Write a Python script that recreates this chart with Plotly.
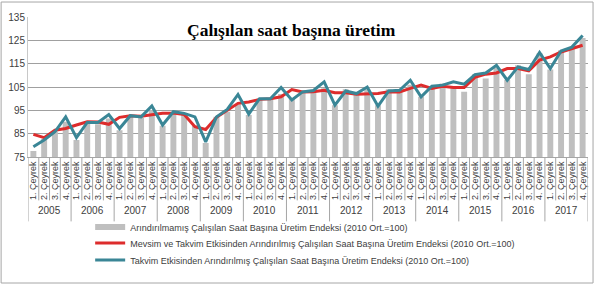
import plotly.graph_objects as go

years = ["2005", "2006", "2007", "2008", "2009", "2010", "2011", "2012",
         "2013", "2014", "2015", "2016", "2017"]
quarters = ["1. Çeyrek", "2. Çeyrek", "3. Çeyrek", "4. Çeyrek"]

raw_index = [77.6, 82.7, 85.8, 90.1, 82.3, 90.0, 89.0, 91.5, 86.5, 92.7, 91.8, 95.0,
             88.4, 94.2, 93.6, 88.5, 81.0, 92.2, 94.4, 97.5, 93.0, 100.0, 100.0, 102.0,
             100.0, 102.2, 102.8, 104.5, 97.2, 104.0, 102.2, 104.0, 97.2, 104.0, 103.0, 106.0,
             100.8, 105.3, 106.5, 105.0, 103.0, 110.5, 108.6, 113.3, 108.0, 114.3, 110.5, 119.5,
             112.5, 120.7, 121.8, 126.0]
seasonal_adj = [84.7, 83.3, 86.5, 87.2, 88.7, 90.1, 90.0, 89.0, 92.0, 92.7, 92.5, 93.2,
                93.7, 93.8, 93.2, 88.0, 86.8, 92.0, 95.0, 98.0, 98.6, 99.7, 100.0, 100.8,
                103.9, 102.9, 103.0, 103.6, 102.5, 102.5, 101.9, 101.9, 102.2, 103.0, 102.9, 104.4,
                105.8, 104.4, 105.3, 104.8, 104.8, 109.1, 110.5, 111.0, 112.9, 112.9, 111.9, 116.5,
                117.9, 120.0, 121.4, 122.9]
calendar_adj = [79.4, 82.3, 85.8, 92.2, 83.3, 89.8, 89.8, 93.2, 87.2, 92.7, 92.2, 96.9,
                88.7, 94.4, 93.7, 92.2, 81.5, 92.2, 95.4, 101.8, 93.4, 100.0, 100.0, 104.8,
                99.4, 102.9, 103.5, 107.2, 97.2, 103.3, 102.2, 105.0, 96.8, 103.3, 103.6, 107.9,
                100.8, 105.3, 105.8, 107.2, 106.2, 110.3, 111.0, 114.3, 107.9, 113.6, 112.5, 119.8,
                112.9, 120.4, 122.1, 127.1]

names = ["Arındırılmamış Çalışılan Saat Başına Üretim Endeksi (2010 Ort.=100)",
         "Mevsim ve Takvim Etkisinden Arındırılmış Çalışılan Saat Başına Üretim Endeksi (2010 Ort.=100)",
         "Takvim Etkisinden Arındırılmış Çalışılan Saat Başına Üretim Endeksi (2010 Ort.=100)"]

n = len(years) * len(quarters)
xs = list(range(n))
qlabels = [quarters[i % 4] for i in xs]

GRAY = "#BFBFBF"
RED = "#DD2C2C"
TEAL = "#3A8696"
TXT = "#404040"
FONT = "Liberation Sans, Arial"

fig = go.Figure()
fig.add_trace(go.Bar(x=xs, y=raw_index, marker=dict(color=GRAY, line=dict(width=0)),
                     showlegend=False, name=names[0]))
# legend-only entry showing bar series as a thick gray line (Excel style)
fig.add_trace(go.Scatter(x=[None], y=[None], mode="lines", name=names[0],
                         line=dict(color=GRAY, width=6), legend="legend"))
fig.add_trace(go.Scatter(x=xs, y=seasonal_adj, mode="lines", name=names[1],
                         line=dict(color=RED, width=3), legend="legend2"))
fig.add_trace(go.Scatter(x=xs, y=calendar_adj, mode="lines", name=names[2],
                         line=dict(color=TEAL, width=3), legend="legend3"))

shapes = []
for i in range(n + 1):
    is_year = (i % 4 == 0)
    shapes.append(dict(type="line", xref="x", yref="paper", x0=i - 0.5, x1=i - 0.5,
                       y0=0, y1=-0.46 if is_year else -0.31,
                       line=dict(color="#A6A6A6", width=1)))
# outer border
shapes.append(dict(type="rect", xref="paper", yref="paper", x0=-0.048, x1=1.009,
                   y0=-0.90, y1=1.107, line=dict(color="#A6A6A6", width=1)))

annotations = []
for k, yr in enumerate(years):
    annotations.append(dict(x=4 * k + 1.5, y=-0.38, xref="x", yref="paper", text=yr,
                            showarrow=False, font=dict(size=10, color=TXT, family=FONT),
                            yanchor="middle"))
annotations.append(dict(x=0.47, y=0.905, xref="paper", yref="paper",
                        text="<b>Çalışılan saat başına üretim</b>", showarrow=False,
                        font=dict(size=17.5, color="#000000",
                                  family="Liberation Serif, Times New Roman, serif"),
                        yanchor="middle"))

def leg(yc):
    return dict(x=0.111, y=yc, xref="paper", yref="container",
                xanchor="left", yanchor="middle",
                font=dict(size=9, color=TXT, family=FONT),
                itemwidth=30, bgcolor="rgba(0,0,0,0)")

fig.update_layout(
    width=600, height=288,
    margin=dict(l=28, r=12, t=17, b=131),
    paper_bgcolor="white", plot_bgcolor="white",
    bargap=0.45,
    font=dict(family=FONT, color=TXT),
    shapes=shapes, annotations=annotations,
    legend=leg(1 - 227 / 288),
    legend2=leg(1 - 243 / 288),
    legend3=leg(1 - 260 / 288),
)
fig.update_xaxes(range=[-0.5, n - 0.5], tickmode="array", tickvals=xs, ticktext=qlabels,
                 tickangle=-90, tickfont=dict(size=9, color=TXT, family=FONT),
                 showgrid=False, showline=True, linecolor="#A6A6A6", ticks="",
                 zeroline=False, automargin=False)
fig.update_yaxes(range=[75, 135], tickmode="array", tickvals=[75, 85, 95, 105, 115, 125, 135],
                 showgrid=True, gridcolor="#A0A0A0", gridwidth=1,
                 showline=True, linecolor="#C8C8C8", ticks="",
                 tickfont=dict(size=10, color=TXT, family=FONT), zeroline=False,
                 automargin=False)

fig.write_html("out.html")
